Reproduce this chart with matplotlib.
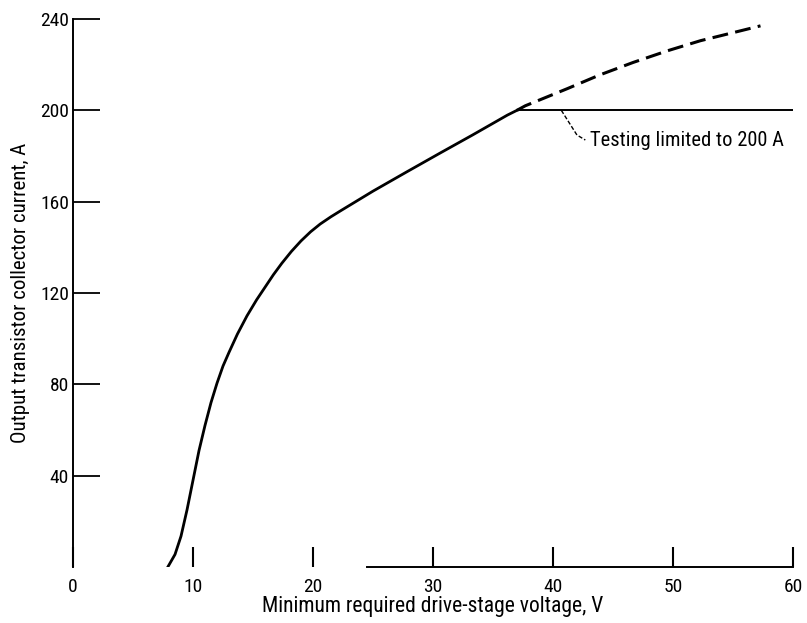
import matplotlib
matplotlib.use("Agg")
import matplotlib.pyplot as plt

# measured curve (solid part, up to the 200 A test limit)
volts = [7.9, 8.5, 9.0, 9.5, 10.0, 10.5, 11.0, 11.5, 12.0, 12.5, 13.0, 13.7,
         14.5, 15.3, 16.0, 16.7, 17.4, 18.2, 19.0, 19.8, 20.6, 21.5, 22.3,
         25.0, 27.8, 30.6, 33.3, 36.2, 37.0]
amps = [0, 5.5, 13.5, 25, 38, 51, 62, 72, 80.5, 88, 94, 102,
        110, 117, 122.5, 128, 133, 138.2, 142.8, 146.8, 150.2, 153.4, 156.0,
        164.6, 173, 181.3, 189.2, 197.9, 200]

# extrapolated part (dashed)
volts_ext = [37.0, 37.7, 41.2, 43.9, 46.7, 49.5, 52.3, 55.0, 57.3]
amps_ext = [200, 202, 209.5, 215.5, 221, 226, 230.5, 234, 237]

limit = 200
xticks = [0, 10, 20, 30, 40, 50, 60]
yticks = [40, 80, 120, 160, 200, 240]

plt.rcParams['font.family'] = ['Roboto Condensed', 'DejaVu Sans']

fig = plt.figure(figsize=(8.07, 6.23), dpi=100)
ax = fig.add_axes([0.0905, 0.0899, 0.892, 0.8796])

ax.plot(volts, amps, color='black', lw=2.0, solid_joinstyle='round')
ax.plot(volts_ext, amps_ext, color='black', lw=2.2, dashes=(5.2, 2.4))
ax.plot([37.0, 60], [limit, limit], color='black', lw=1.4)

# leader to note
ax.plot([40.7, 42.0, 42.7], [200, 189.2, 187], color='black', lw=1.0,
        dashes=(3, 1.5))
ax.text(43.1, 187, 'Testing limited to 200 A', fontsize=14.8, va='center',
        ha='left')

ax.set_xlim(0, 60)
ax.set_ylim(0, 240)
ax.set_xticks(xticks)
ax.set_yticks(yticks)
ax.set_xticklabels([str(t) for t in xticks])
ax.set_yticklabels([str(t) for t in yticks])

ax.spines['top'].set_visible(False)
ax.spines['right'].set_visible(False)
ax.spines['bottom'].set_bounds(24.5, 60)
for s in ['left', 'bottom']:
    ax.spines[s].set_linewidth(1.4)

ax.tick_params(axis='x', direction='in', length=14.4, width=1.5,
               labelsize=14, pad=8)
ax.tick_params(axis='y', direction='in', length=19.4, width=1.3,
               labelsize=14, pad=3)

ax.set_xlabel('Minimum required drive-stage voltage, V', fontsize=15.5,
              labelpad=0)
ax.set_ylabel('Output transistor collector current, A', fontsize=15,
              labelpad=7)

fig.savefig('out.png', dpi=100)
